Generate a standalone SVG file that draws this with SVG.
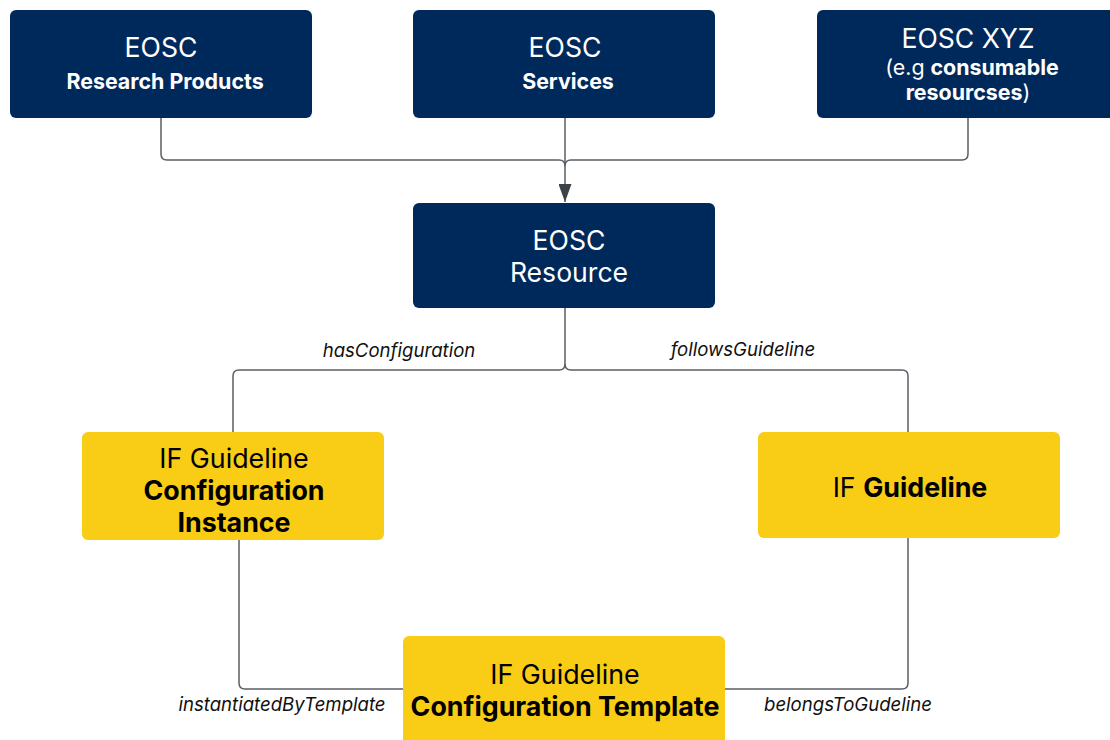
<svg xmlns="http://www.w3.org/2000/svg" width="1110" height="740" viewBox="0 0 1110 740">
<style>
.navy{fill:#00295B}
.yel{fill:#F9CC15}
.wt{fill:#fff;font-family:Inter,"Noto Sans",sans-serif;text-anchor:middle}
.bt{fill:#000;font-family:Inter,"Noto Sans",sans-serif;text-anchor:middle}
.b{font-weight:bold}
.lbl{font-family:Inter,"Noto Sans",sans-serif;font-style:italic;font-size:18.6px;fill:#111;text-anchor:middle}
.ln{fill:none;stroke:#5a5f66;stroke-width:1.5}
</style>
<defs>
<marker id="arr" markerWidth="18" markerHeight="13" refX="18" refY="6.5" orient="auto" markerUnits="userSpaceOnUse" viewBox="0 0 18 13">
<path d="M0,0 L18,6.5 L0,13 Z" fill="#3d4448"/>
</marker>
</defs>
<rect width="1110" height="740" fill="#fff"/>
<g id="connectors">
<path class="ln" d="M161,118 V154 Q161,160 167,160 H559 Q565,160 565,166"/>
<path class="ln" d="M968,118 V154 Q968,160 962,160 H571 Q565,160 565,166"/>
<path class="ln" d="M565,118 V202" marker-end="url(#arr)"/>
<path class="ln" d="M565,308 V364 Q565,370 559,370 H239 Q233,370 233,376 V432"/>
<path class="ln" d="M565,364 Q565,370 571,370 H902 Q908,370 908,376 V432"/>
<path class="ln" d="M239,540 V683 Q239,689 245,689 H403"/>
<path class="ln" d="M908,538 V683 Q908,689 902,689 H725"/>
<text class="lbl" x="399" y="357">hasConfiguration</text>
<text class="lbl" x="743" y="356">followsGuideline</text>
<text class="lbl" x="282" y="711">instantiatedByTemplate</text>
<text class="lbl" x="848" y="711">belongsToGudeline</text>
</g>
<g id="n1">
<rect class="navy" x="10" y="10" width="302" height="108" rx="6"/>
<text class="wt" x="161" y="57" font-size="26.6">EOSC</text>
<text class="wt b" x="165" y="89" font-size="21.4">Research Products</text>
</g>
<g id="n2">
<rect class="navy" x="413" y="10" width="302" height="108" rx="6"/>
<text class="wt" x="565" y="57" font-size="26.6">EOSC</text>
<text class="wt b" x="568" y="89" font-size="21.4">Services</text>
</g>
<g id="n3">
<rect class="navy" x="817" y="10" width="302" height="108" rx="6"/>
<text class="wt" x="968" y="48" font-size="26.6">EOSC XYZ</text>
<text class="wt" x="972" y="75" font-size="21.4">(e.g <tspan class="b">consumable</tspan></text>
<text class="wt" x="968" y="100" font-size="21.4"><tspan class="b">resourcses</tspan>)</text>
</g>
<g id="n4">
<rect class="navy" x="413" y="203" width="302" height="105" rx="6"/>
<text class="wt" x="569" y="250" font-size="26.6">EOSC</text>
<text class="wt" x="569" y="282" font-size="26.6">Resource</text>
</g>
<g id="n5">
<rect class="yel" x="82" y="432" width="302" height="108" rx="6"/>
<text class="bt" x="234" y="468" font-size="26.8">IF Guideline</text>
<text class="bt b" x="234" y="500" font-size="26.8">Configuration</text>
<text class="bt b" x="234" y="532" font-size="26.8">Instance</text>
</g>
<g id="n6">
<rect class="yel" x="758" y="432" width="302" height="106" rx="6"/>
<text class="bt" x="910" y="497" font-size="26.8">IF <tspan class="b">Guideline</tspan></text>
</g>
<g id="n7">
<rect class="yel" x="403" y="636" width="322" height="114" rx="6"/>
<text class="bt" x="565" y="684" font-size="26.8">IF Guideline</text>
<text class="bt b" x="565" y="716" font-size="26.8">Configuration Template</text>
</g>
</svg>
